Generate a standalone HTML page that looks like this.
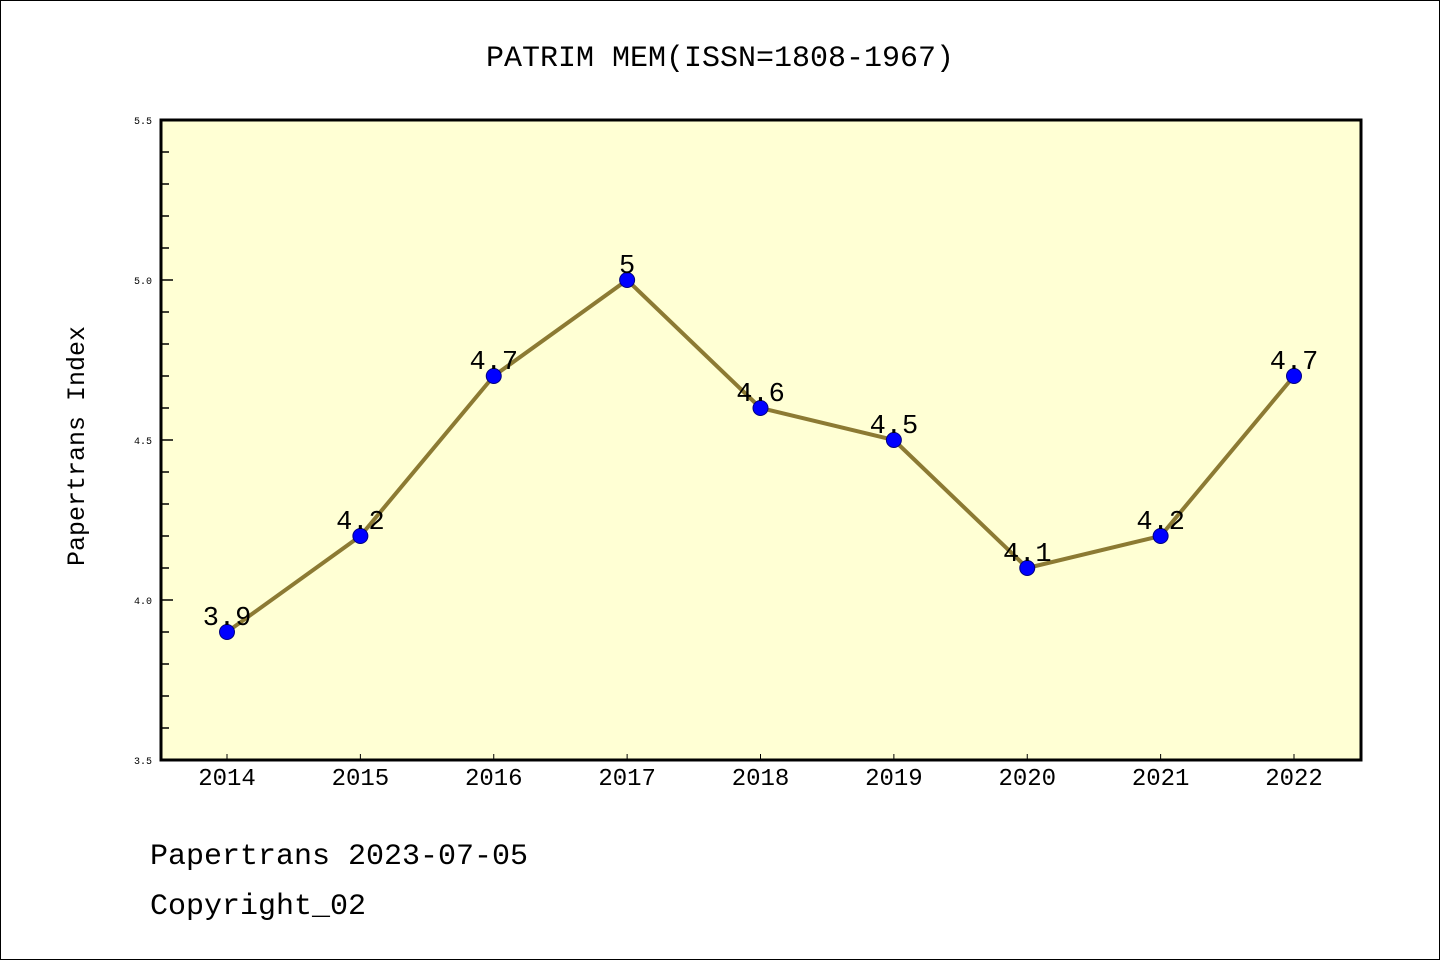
<!DOCTYPE html>
<html><head><meta charset="utf-8"><style>
html,body{margin:0;padding:0;background:#fff}
svg{display:block}
text{font-family:"Liberation Mono","WenQuanYi Zen Hei",monospace}
</style></head><body>
<svg id="chart" width="1440" height="960" xmlns="http://www.w3.org/2000/svg">
<rect x="0.5" y="0.5" width="1439" height="959" fill="#fff" stroke="#000" stroke-width="1"/>
<text x="720" y="66" font-size="30" text-anchor="middle">PATRIM MEM(ISSN=1808-1967)</text>
<rect x="161" y="120" width="1200" height="640" fill="#ffffd4"/>
<g id="yaxis"></g>
<g id="xaxis"></g>
<g id="series"></g>
<rect x="161" y="120" width="1200" height="640" fill="none" stroke="#000" stroke-width="3"/>
<text transform="translate(84,446) rotate(-90)" font-size="25" text-anchor="middle">Papertrans Index</text>
<text x="150" y="864" font-size="30">Papertrans 2023-07-05</text>
<text x="150" y="914" font-size="30">Copyright_02</text>
</svg>
<script>
const categories=["2014","2015","2016","2017","2018","2019","2020","2021","2022"];
const values=[3.9,4.2,4.7,5.0,4.6,4.5,4.1,4.2,4.7];
const valueLabels=["3.9","4.2","4.7","5","4.6","4.5","4.1","4.2","4.7"];
const yTicks=["3.5","4.0","4.5","5.0","5.5"];
const NS="http://www.w3.org/2000/svg";
const yMin=3.5,yMax=5.5,plotTop=120,plotBot=760;
function yS(v){return plotBot-(v-yMin)/(yMax-yMin)*(plotBot-plotTop);}
function xS(i){return 227+i*(1294-227)/(categories.length-1);}
function mk(t,a,p){const e=document.createElementNS(NS,t);for(const k in a)e.setAttribute(k,a[k]);p.appendChild(e);return e;}
const ya=document.getElementById('yaxis'),xa=document.getElementById('xaxis'),sg=document.getElementById('series');
for(let k=0;k<=20;k++){
  const v=yMin+k*0.1;
  const major=k%5===0;
  const t=mk('line',{x1:161,x2:major?173:169,y1:yS(v),y2:yS(v),stroke:'#000','stroke-width':1.5},ya);
  
  
}
yTicks.forEach(s=>{
  const t=mk('text',{x:152,y:yS(parseFloat(s))+4,'font-size':10,'text-anchor':'end'},ya);
  t.textContent=s;
  
  
});
categories.forEach((c,i)=>{
  const l=mk('line',{x1:xS(i),x2:xS(i),y1:plotBot,y2:plotBot-6,stroke:'#000','stroke-width':1},xa);
  
  
  const t=mk('text',{x:xS(i),y:785,'font-size':24,'text-anchor':'middle'},xa);
  t.textContent=c;
  
  
});
const line=mk('polyline',{points:values.map((v,i)=>xS(i)+','+yS(v)).join(' '),fill:'none',stroke:'#8c7a33','stroke-width':4},sg);


values.forEach((v,i)=>{
  const c=mk('circle',{cx:xS(i),cy:yS(v),r:7.5,fill:'#0000ff',stroke:'#000080','stroke-width':1},sg);
  
  
  const t=mk('text',{x:xS(i),y:yS(v)-7,'font-size':27,'text-anchor':'middle'},sg);
  t.textContent=valueLabels[i];
  
  
});
</script>
</body></html>
